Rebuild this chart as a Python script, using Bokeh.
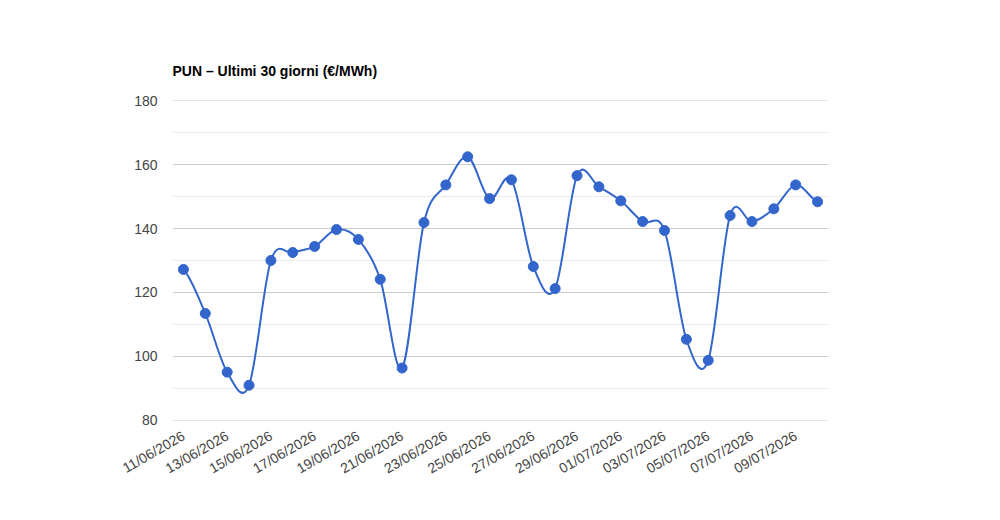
import math
from bokeh.plotting import figure
from bokeh.models import FixedTicker, Range1d
from bokeh.embed import file_html
from bokeh.resources import INLINE

dates = ["11/06/2026", "12/06/2026", "13/06/2026", "14/06/2026", "15/06/2026",
         "16/06/2026", "17/06/2026", "18/06/2026", "19/06/2026", "20/06/2026",
         "21/06/2026", "22/06/2026", "23/06/2026", "24/06/2026", "25/06/2026",
         "26/06/2026", "27/06/2026", "28/06/2026", "29/06/2026", "30/06/2026",
         "01/07/2026", "02/07/2026", "03/07/2026", "04/07/2026", "05/07/2026",
         "06/07/2026", "07/07/2026", "08/07/2026", "09/07/2026", "10/07/2026"]
prices = [127.2, 113.4, 95.0, 90.9, 130.0, 132.5, 134.4, 139.7, 136.6, 124.1,
          96.3, 141.9, 153.7, 162.5, 149.4, 155.3, 128.1, 121.2, 156.6, 153.1,
          148.7, 142.2, 139.4, 105.3, 98.7, 144.1, 142.2, 146.2, 153.7, 148.4]
y_ticks = [80, 100, 120, 140, 160, 180]
y_minor = [90, 110, 130, 150, 170]

xs = list(range(len(prices)))
n = len(prices)

# smooth (Catmull-Rom) curve segments as cubic beziers
x0s, y0s, x1s, y1s, cx0, cy0, cx1, cy1 = [], [], [], [], [], [], [], []
for i in range(n - 1):
    p0 = prices[i - 1] if i > 0 else prices[i]
    p1 = prices[i]
    p2 = prices[i + 1]
    p3 = prices[i + 2] if i + 2 < n else prices[i + 1]
    x0s.append(xs[i]); y0s.append(p1)
    x1s.append(xs[i + 1]); y1s.append(p2)
    cx0.append(xs[i] + 1 / 3); cy0.append(p1 + (p2 - p0) / 6)
    cx1.append(xs[i + 1] - 1 / 3); cy1.append(p2 - (p3 - p1) / 6)

p = figure(width=1000, height=520, output_backend="svg", toolbar_location=None,
           x_range=Range1d(-0.5, n - 0.5), y_range=Range1d(79.85, 180.15),
           min_border_left=172, min_border_right=172, min_border_top=100,
           min_border_bottom=100, title="PUN – Ultimi 30 giorni (€/MWh)")
p.outline_line_color = None
p.background_fill_color = "white"
p.border_fill_color = "white"

p.title.text_font = "Liberation Sans"
p.title.text_font_size = "14px"
p.title.text_font_style = "bold"
p.title.text_color = "#000000"
p.title.standoff = 44
p.title.offset = 0

p.bezier(x0=x0s, y0=y0s, x1=x1s, y1=y1s, cx0=cx0, cy0=cy0, cx1=cx1, cy1=cy1,
         line_color="#3366cc", line_width=2)
p.scatter(xs, prices, size=10, fill_color="#3366cc", line_color="#3366cc")

p.yaxis.ticker = FixedTicker(ticks=y_ticks, minor_ticks=y_minor)
p.xaxis.ticker = FixedTicker(ticks=xs[::2])
p.xaxis.major_label_overrides = {i: dates[i] for i in xs[::2]}
p.xaxis.major_label_orientation = math.pi / 6

for ax in (p.xaxis, p.yaxis):
    ax.axis_line_color = None
    ax.major_tick_line_color = None
    ax.minor_tick_line_color = None
    ax.major_tick_out = 0
    ax.minor_tick_out = 0
    ax.major_label_text_font = "Liberation Sans"
    ax.major_label_text_font_size = "14px"
    ax.major_label_text_color = "#444444"
p.yaxis.major_label_standoff = 15
p.xaxis.major_label_standoff = 14

p.xgrid.grid_line_color = None
p.ygrid.grid_line_color = "#cccccc"
p.ygrid.minor_grid_line_color = "#ebebeb"

open("out.html", "w").write(file_html(p, INLINE))
